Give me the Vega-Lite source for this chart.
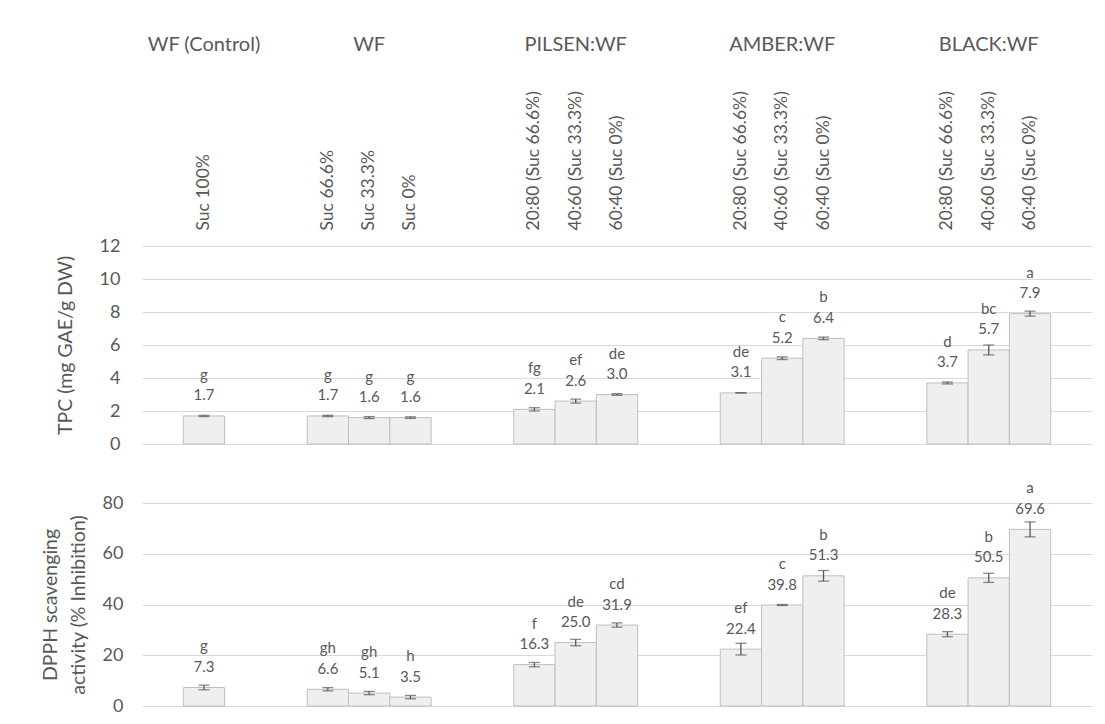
{
  "$schema": "https://vega.github.io/schema/vega-lite/v6.json",
  "autosize": "none",
  "padding": {"left": 142, "top": 246, "right": 963, "bottom": 478},
  "background": "white",
  "bounds": "flush",
  "spacing": 59,
  "config": {
    "view": {"stroke": null},
    "font": "Lato",
    "axis": {"labelFont": "Lato", "titleFont": "Lato", "titleFontWeight": "normal"}
  },
  "data": {
    "values": [
      {"key": "WF (Control)|Suc 100%", "tpc": 1.7, "tpc_sd": 0.04, "tpc_l": "g", "dpph": 7.3, "dpph_sd": 0.9, "dpph_l": "g"},
      {"key": "WF|Suc 66.6%", "tpc": 1.7, "tpc_sd": 0.04, "tpc_l": "g", "dpph": 6.6, "dpph_sd": 0.65, "dpph_l": "gh"},
      {"key": "WF|Suc 33.3%", "tpc": 1.6, "tpc_sd": 0.06, "tpc_l": "g", "dpph": 5.1, "dpph_sd": 0.65, "dpph_l": "gh"},
      {"key": "WF|Suc 0%", "tpc": 1.6, "tpc_sd": 0.05, "tpc_l": "g", "dpph": 3.5, "dpph_sd": 0.65, "dpph_l": "h"},
      {"key": "PILSEN:WF|20:80 (Suc 66.6%)", "tpc": 2.1, "tpc_sd": 0.1, "tpc_l": "fg", "dpph": 16.3, "dpph_sd": 0.85, "dpph_l": "f"},
      {"key": "PILSEN:WF|40:60 (Suc 33.3%)", "tpc": 2.6, "tpc_sd": 0.12, "tpc_l": "ef", "dpph": 25.0, "dpph_sd": 1.25, "dpph_l": "de"},
      {"key": "PILSEN:WF|60:40 (Suc 0%)", "tpc": 3.0, "tpc_sd": 0.05, "tpc_l": "de", "dpph": 31.9, "dpph_sd": 0.85, "dpph_l": "cd"},
      {"key": "AMBER:WF|20:80 (Suc 66.6%)", "tpc": 3.1, "tpc_sd": 0.01, "tpc_l": "de", "dpph": 22.4, "dpph_sd": 2.3, "dpph_l": "ef"},
      {"key": "AMBER:WF|40:60 (Suc 33.3%)", "tpc": 5.2, "tpc_sd": 0.08, "tpc_l": "c", "dpph": 39.8, "dpph_sd": 0.2, "dpph_l": "c"},
      {"key": "AMBER:WF|60:40 (Suc 0%)", "tpc": 6.4, "tpc_sd": 0.08, "tpc_l": "b", "dpph": 51.3, "dpph_sd": 2.1, "dpph_l": "b"},
      {"key": "BLACK:WF|20:80 (Suc 66.6%)", "tpc": 3.7, "tpc_sd": 0.06, "tpc_l": "d", "dpph": 28.3, "dpph_sd": 1.0, "dpph_l": "de"},
      {"key": "BLACK:WF|40:60 (Suc 33.3%)", "tpc": 5.7, "tpc_sd": 0.3, "tpc_l": "bc", "dpph": 50.5, "dpph_sd": 1.8, "dpph_l": "b"},
      {"key": "BLACK:WF|60:40 (Suc 0%)", "tpc": 7.9, "tpc_sd": 0.15, "tpc_l": "a", "dpph": 69.6, "dpph_sd": 2.95, "dpph_l": "a"}
    ]
  },
  "vconcat": [
    {
      "width": 950,
      "height": 198,
      "layer": [
        {
          "encoding": {
            "x": {
              "field": "key", "type": "nominal", "sort": null,
              "scale": {"domain": ["_0", "WF (Control)|Suc 100%", "_2", "_3", "WF|Suc 66.6%", "WF|Suc 33.3%", "WF|Suc 0%", "_7", "_8", "PILSEN:WF|20:80 (Suc 66.6%)", "PILSEN:WF|40:60 (Suc 33.3%)", "PILSEN:WF|60:40 (Suc 0%)", "_12", "_13", "AMBER:WF|20:80 (Suc 66.6%)", "AMBER:WF|40:60 (Suc 33.3%)", "AMBER:WF|60:40 (Suc 0%)", "_17", "_18", "BLACK:WF|20:80 (Suc 66.6%)", "BLACK:WF|40:60 (Suc 33.3%)", "BLACK:WF|60:40 (Suc 0%)", "_22"], "paddingInner": 0, "paddingOuter": 0},
              "axis": {
                "orient": "top", "title": null, "labelAngle": -90, "labelAlign": "left", "labelBaseline": "middle",
                "labelPadding": 16, "ticks": false, "tickSize": 0, "domain": false, "grid": false,
                "labelExpr": "indexof(datum.value, '|') >= 0 ? split(datum.value, '|')[1] : ''",
                "labelFontSize": 17.5, "labelColor": "#595959", "labelOverlap": false, "labelLimit": 0
              }
            },
            "y": {
              "field": "tpc", "type": "quantitative",
              "scale": {"domain": [0, 12], "nice": false},
              "axis": {
                "values": [0, 2, 4, 6, 8, 10, 12], "title": "TPC (mg GAE/g DW)",
                "grid": true, "gridColor": "#d9d9d9", "gridWidth": 1, "domain": false, "ticks": false, "tickSize": 0,
                "labelPadding": 22, "labelFontSize": 18, "labelColor": "#595959",
                "titleFontSize": 19.5, "titleColor": "#595959", "titlePadding": 24
              }
            }
          },
          "layer": [
            {"mark": {"type": "bar", "fill": "#efefef", "stroke": "#bfbfbf", "strokeWidth": 1}},
            {"mark": {"type": "errorbar", "ticks": true, "size": 11, "thickness": 1.3, "color": "#595959"}, "encoding": {"yError": {"field": "tpc_sd"}}},
            {"mark": {"type": "text", "dy": -20.5, "baseline": "middle", "fontSize": 15, "color": "#595959"}, "encoding": {"text": {"field": "tpc", "type": "quantitative", "format": ".1f"}}},
            {"mark": {"type": "text", "dy": -41, "baseline": "middle", "fontSize": 15, "color": "#595959"}, "encoding": {"text": {"field": "tpc_l", "type": "nominal"}}}
          ]
        },
        {
          "mark": {"type": "rule", "opacity": 0},
          "encoding": {
            "x": {
              "field": "key", "type": "nominal", "sort": null,
              "scale": {"domain": ["_0", "WF (Control)|Suc 100%", "_2", "_3", "WF|Suc 66.6%", "WF|Suc 33.3%", "WF|Suc 0%", "_7", "_8", "PILSEN:WF|20:80 (Suc 66.6%)", "PILSEN:WF|40:60 (Suc 33.3%)", "PILSEN:WF|60:40 (Suc 0%)", "_12", "_13", "AMBER:WF|20:80 (Suc 66.6%)", "AMBER:WF|40:60 (Suc 33.3%)", "AMBER:WF|60:40 (Suc 0%)", "_17", "_18", "BLACK:WF|20:80 (Suc 66.6%)", "BLACK:WF|40:60 (Suc 33.3%)", "BLACK:WF|60:40 (Suc 0%)", "_22"], "paddingInner": 0, "paddingOuter": 0},
              "axis": {
                "orient": "top", "offset": 196, "title": null, "labelAngle": 0, "labelAlign": "center", "labelBaseline": "alphabetic",
                "labelPadding": 0, "ticks": false, "tickSize": 0, "domain": false, "grid": false,
                "labelExpr": "indexof(['WF (Control)|Suc 100%', 'WF|Suc 33.3%', 'PILSEN:WF|40:60 (Suc 33.3%)', 'AMBER:WF|40:60 (Suc 33.3%)', 'BLACK:WF|40:60 (Suc 33.3%)'], datum.value) >= 0 ? split(datum.value, '|')[0] : ''",
                "labelFontSize": 20, "labelColor": "#595959", "labelOverlap": false, "labelLimit": 0
              }
            }
          }
        }
      ],
      "resolve": {"scale": {"x": "independent"}}
    },
    {
      "width": 950,
      "height": 203,
      "encoding": {
        "x": {
          "field": "key", "type": "nominal", "sort": null,
          "scale": {"domain": ["_0", "WF (Control)|Suc 100%", "_2", "_3", "WF|Suc 66.6%", "WF|Suc 33.3%", "WF|Suc 0%", "_7", "_8", "PILSEN:WF|20:80 (Suc 66.6%)", "PILSEN:WF|40:60 (Suc 33.3%)", "PILSEN:WF|60:40 (Suc 0%)", "_12", "_13", "AMBER:WF|20:80 (Suc 66.6%)", "AMBER:WF|40:60 (Suc 33.3%)", "AMBER:WF|60:40 (Suc 0%)", "_17", "_18", "BLACK:WF|20:80 (Suc 66.6%)", "BLACK:WF|40:60 (Suc 33.3%)", "BLACK:WF|60:40 (Suc 0%)", "_22"], "paddingInner": 0, "paddingOuter": 0},
          "axis": null
        },
        "y": {
          "field": "dpph", "type": "quantitative",
          "scale": {"domain": [0, 80], "nice": false},
          "axis": {
            "values": [0, 20, 40, 60, 80], "title": ["DPPH scavenging", "activity (% Inhibition)"],
            "grid": true, "gridColor": "#d9d9d9", "gridWidth": 1, "domain": false, "ticks": false, "tickSize": 0,
            "labelPadding": 19, "labelFontSize": 18, "labelColor": "#595959",
            "titleFontSize": 19.5, "titleColor": "#595959", "titlePadding": 14, "titleLineHeight": 28
          }
        }
      },
      "layer": [
        {"mark": {"type": "bar", "fill": "#efefef", "stroke": "#bfbfbf", "strokeWidth": 1}},
        {"mark": {"type": "errorbar", "ticks": true, "size": 11, "thickness": 1.3, "color": "#595959"}, "encoding": {"yError": {"field": "dpph_sd"}}},
        {"mark": {"type": "text", "dy": -20.5, "baseline": "middle", "fontSize": 15, "color": "#595959"}, "encoding": {"text": {"field": "dpph", "type": "quantitative", "format": ".1f"}}},
        {"mark": {"type": "text", "dy": -41, "baseline": "middle", "fontSize": 15, "color": "#595959"}, "encoding": {"text": {"field": "dpph_l", "type": "nominal"}}}
      ]
    }
  ]
}
